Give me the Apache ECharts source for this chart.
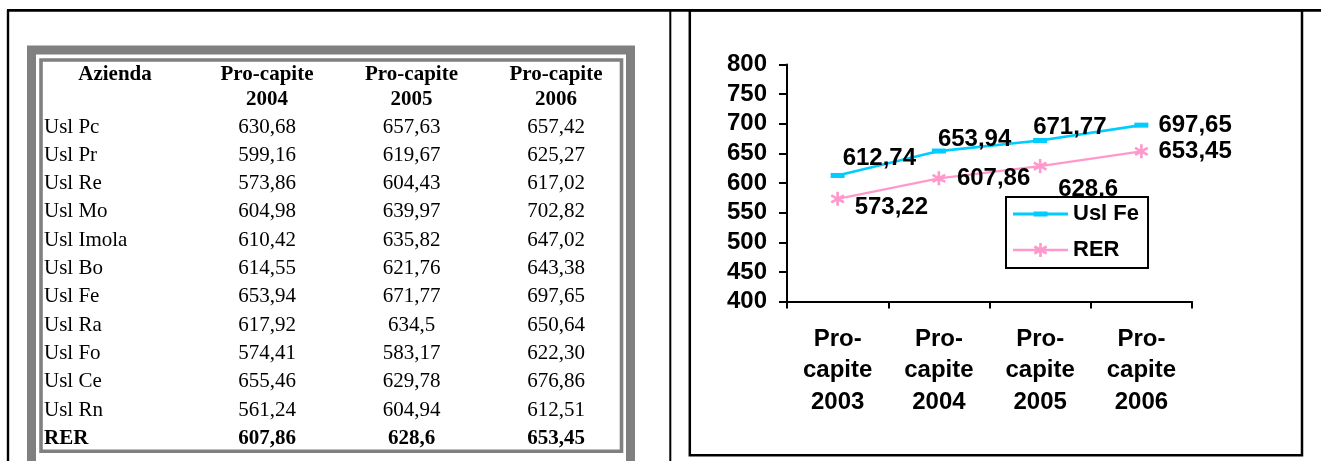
<!DOCTYPE html>
<html>
<head>
<meta charset="utf-8">
<script src="https://cdn.jsdelivr.net/npm/echarts@6/dist/echarts.min.js"></script>
<style>
  html, body { margin: 0; padding: 0; background: #ffffff; }
  #c { width: 1323px; height: 461px; }
</style>
</head>
<body>
<div id="c"></div>
<script>
// ---- Tabella: spesa pro-capite per azienda ----
const intestazioni = ['Azienda', 'Pro-capite 2004', 'Pro-capite 2005', 'Pro-capite 2006'];
const aziende = ['Usl Pc', 'Usl Pr', 'Usl Re', 'Usl Mo', 'Usl Imola', 'Usl Bo',
                 'Usl Fe', 'Usl Ra', 'Usl Fo', 'Usl Ce', 'Usl Rn', 'RER'];
const proCapite2004 = ['630,68', '599,16', '573,86', '604,98', '610,42', '614,55',
                       '653,94', '617,92', '574,41', '655,46', '561,24', '607,86'];
const proCapite2005 = ['657,63', '619,67', '604,43', '639,97', '635,82', '621,76',
                       '671,77', '634,5', '583,17', '629,78', '604,94', '628,6'];
const proCapite2006 = ['657,42', '625,27', '617,02', '702,82', '647,02', '643,38',
                       '697,65', '650,64', '622,30', '676,86', '612,51', '653,45'];

// ---- Grafico: Usl Fe vs RER ----
const anni = ['Pro-capite 2003', 'Pro-capite 2004', 'Pro-capite 2005', 'Pro-capite 2006'];
const uslFe = [612.74, 653.94, 671.77, 697.65];
const rer = [573.22, 607.86, 628.6, 653.45];
const yMin = 400, yMax = 800, yStep = 50;

const SERIF = "'Liberation Serif', 'Times New Roman', serif";
const SANS = "'Liberation Sans', Arial, sans-serif";
const CYAN = '#00CCFF';
const PINK = '#FF99CC';
const GRAY = '#808080';

// asterisk marker: vertical bar plus two bars at 30 and 150 degrees
const ASTERISK = 'path://M-1.8,-10 L1.8,-10 L1.8,10 L-1.8,10 Z ' +
  'M7.76,6.56 L-9.56,-3.44 L-7.76,-6.56 L9.56,3.44 Z ' +
  'M-9.56,3.44 L7.76,-6.56 L9.56,-3.44 L-7.76,6.56 Z';

// legend icons: line with the series marker in the middle
const ICON_FE = 'path://M0,5.6 L55,5.6 L55,8.4 L0,8.4 Z M20.5,4.5 L34.5,4.5 L34.5,9.5 L20.5,9.5 Z';
const ICON_RER = 'path://M0,5.8 L55,5.8 L55,8.2 L0,8.2 Z ' +
  'M26.2,0 L28.8,0 L28.8,14 L26.2,14 Z ' +
  'M32.91,11.63 L20.79,4.63 L22.09,2.37 L34.21,9.37 Z ' +
  'M20.79,9.37 L32.91,2.37 L34.21,4.63 L22.09,11.63 Z';

// label nudges (px) around the points, per series
const feLabelShift = [[-12, -17.5], [-18, -12], [-24, -13.5], [0, 0]];
const rerLabelShift = [[0, 9], [1, 0], [1, 23], [0, 0]];

// ---- page frame and table graphics ----
const g = [];
const line = (x1, y1, x2, y2, w) => g.push({
  type: 'line', silent: true, shape: { x1, y1, x2, y2 },
  style: { stroke: '#000', lineWidth: w }
});
line(7, 10.3, 1321, 10.3, 2.7);
line(8, 10, 8, 461, 2.4);
line(670.3, 10, 670.3, 461, 2);
g.push({
  type: 'rect', silent: true, shape: { x: 689.8, y: 10.3, width: 612.2, height: 445 },
  style: { fill: 'none', stroke: '#000', lineWidth: 2.5 }
});
// gray double border of the table
g.push({
  type: 'rect', silent: true, shape: { x: 31.5, y: 50, width: 599, height: 420 },
  style: { fill: 'none', stroke: GRAY, lineWidth: 9 }
});
g.push({
  type: 'rect', silent: true, shape: { x: 41, y: 60, width: 580.5, height: 391.3 },
  style: { fill: 'none', stroke: GRAY, lineWidth: 3.6 }
});

const colX = [115, 267, 411.5, 556];
const txt = (text, x, y, bold, align) => g.push({
  type: 'text', silent: true, x, y,
  style: {
    text, fill: '#000', fontFamily: SERIF, fontSize: 21,
    fontWeight: bold ? 'bold' : 'normal', align: align || 'center', verticalAlign: 'middle'
  }
});
intestazioni.forEach((h, c) => {
  const parts = c === 0 ? [h] : h.split(' ');
  parts.forEach((p, k) => txt(p, colX[c], 75 + k * 25, true));
});
const valueCols = [proCapite2004, proCapite2005, proCapite2006];
aziende.forEach((name, r) => {
  const y = 127 + r * 28.3;
  const bold = name === 'RER';
  txt(name, 44, y, bold, 'left');
  valueCols.forEach((col, c) => txt(col[r], colX[c + 1], y, bold));
});

// ---- chart ----
const labelBase = {
  show: true, position: 'right', distance: 10,
  color: '#000', fontFamily: SANS, fontWeight: 'bold', fontSize: 24,
  formatter: p => String(p.value).replace('.', ',')
};

const chart = echarts.init(document.getElementById('c'), null, { renderer: 'canvas' });
chart.setOption({
  backgroundColor: '#ffffff',
  animation: false,
  graphic: g,
  grid: { left: 787, top: 64.5, width: 405, height: 237 },
  legend: {
    orient: 'vertical', left: 1006, top: 197,
    padding: [6, 9, 7, 7], itemGap: 14, itemWidth: 55, itemHeight: 14,
    backgroundColor: '#ffffff', borderColor: '#000', borderWidth: 2, borderRadius: 0,
    selectedMode: false,
    textStyle: { fontFamily: SANS, fontWeight: 'bold', fontSize: 22, color: '#000' },
    data: [{ name: 'Usl Fe', icon: ICON_FE }, { name: 'RER', icon: ICON_RER }]
  },
  xAxis: {
    type: 'category', data: anni, boundaryGap: true,
    axisLine: { show: true, lineStyle: { color: '#000', width: 2 } },
    axisTick: { show: true, alignWithLabel: false, length: 7, lineStyle: { color: '#000', width: 2 } },
    splitLine: { show: false },
    axisLabel: {
      interval: 0, margin: 22, color: '#000', fontFamily: SANS, fontWeight: 'bold',
      fontSize: 24, lineHeight: 31.5,
      formatter: v => v.replace('Pro-capite ', 'Pro-\ncapite\n')
    }
  },
  yAxis: {
    type: 'value', min: yMin, max: yMax, interval: yStep,
    axisLine: { show: true, lineStyle: { color: '#000', width: 2 } },
    axisTick: { show: true, length: 8, lineStyle: { color: '#000', width: 2 } },
    splitLine: { show: false },
    axisLabel: { margin: 20, color: '#000', fontFamily: SANS, fontWeight: 'bold', fontSize: 24 }
  },
  series: [
    {
      name: 'Usl Fe', type: 'line', z: 3,
      data: uslFe.map((v, i) => ({ value: v, label: { offset: feLabelShift[i] } })),
      symbol: 'rect', symbolSize: [14, 5], showSymbol: true,
      lineStyle: { color: CYAN, width: 2.7 },
      itemStyle: { color: CYAN },
      label: labelBase
    },
    {
      name: 'RER', type: 'line', z: 2,
      data: rer.map((v, i) => ({ value: v, label: { offset: rerLabelShift[i] } })),
      symbol: ASTERISK, symbolSize: 14, showSymbol: true,
      lineStyle: { color: PINK, width: 2.3 },
      itemStyle: { color: PINK },
      label: labelBase
    }
  ]
});
</script>
</body>
</html>
